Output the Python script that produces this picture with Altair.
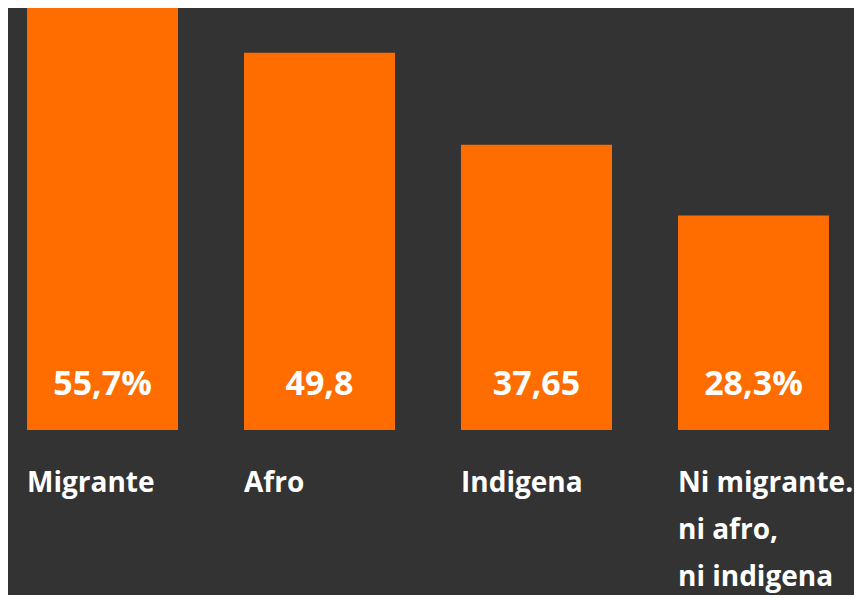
import altair as alt
import pandas as pd

categories = ["Migrante", "Afro", "Indigena", "Ni migrante.\nni afro,\nni indigena"]
values = [55.7, 49.8, 37.65, 28.3]
value_labels = ["55,7%", "49,8", "37,65", "28,3%"]

df = pd.DataFrame({"cat": categories, "val": values, "lab": value_labels})

FONT = "Open Sans"

x = alt.X(
    "cat:N",
    sort=categories,
    title=None,
    scale=alt.Scale(paddingInner=0.304, paddingOuter=0.0876),
    axis=alt.Axis(
        domain=False,
        ticks=False,
        labelAngle=0,
        labelAlign="left",
        labelBaseline="top",
        labelOffset=-75.5,
        labelPadding=39,
        labelFont=FONT,
        labelFontWeight="bold",
        labelFontSize=28,
        labelColor="#ffffff",
        labelLineHeight=47,
        labelBound=False,
        labelOverlap=False,
        labelLimit=0,
        labelExpr="split(datum.label, '\\n')",
    ),
)

bars = alt.Chart(df).mark_bar(color="#FF6C00").encode(
    x=x,
    y=alt.Y("val:Q", scale=alt.Scale(domain=[0, 55.7], nice=False, zero=True), axis=None),
)

texts = alt.Chart(df).mark_text(
    color="#ffffff",
    font=FONT,
    fontWeight="bold",
    fontSize=34,
    align="center",
    baseline="alphabetic",
).encode(
    x=alt.X("cat:N", sort=categories),
    y=alt.value(387),
    text="lab:N",
)

chart = (
    alt.layer(bars, texts)
    .properties(
        width=840,
        height=422,
        background="#333333",
        padding={"left": 0, "top": 0, "right": 6, "bottom": 165},
        autosize=alt.AutoSizeParams(type="none"),
    )
    .configure_view(stroke=None)
)

chart.save("out.html", embed_options={"renderer": "svg", "actions": False})
